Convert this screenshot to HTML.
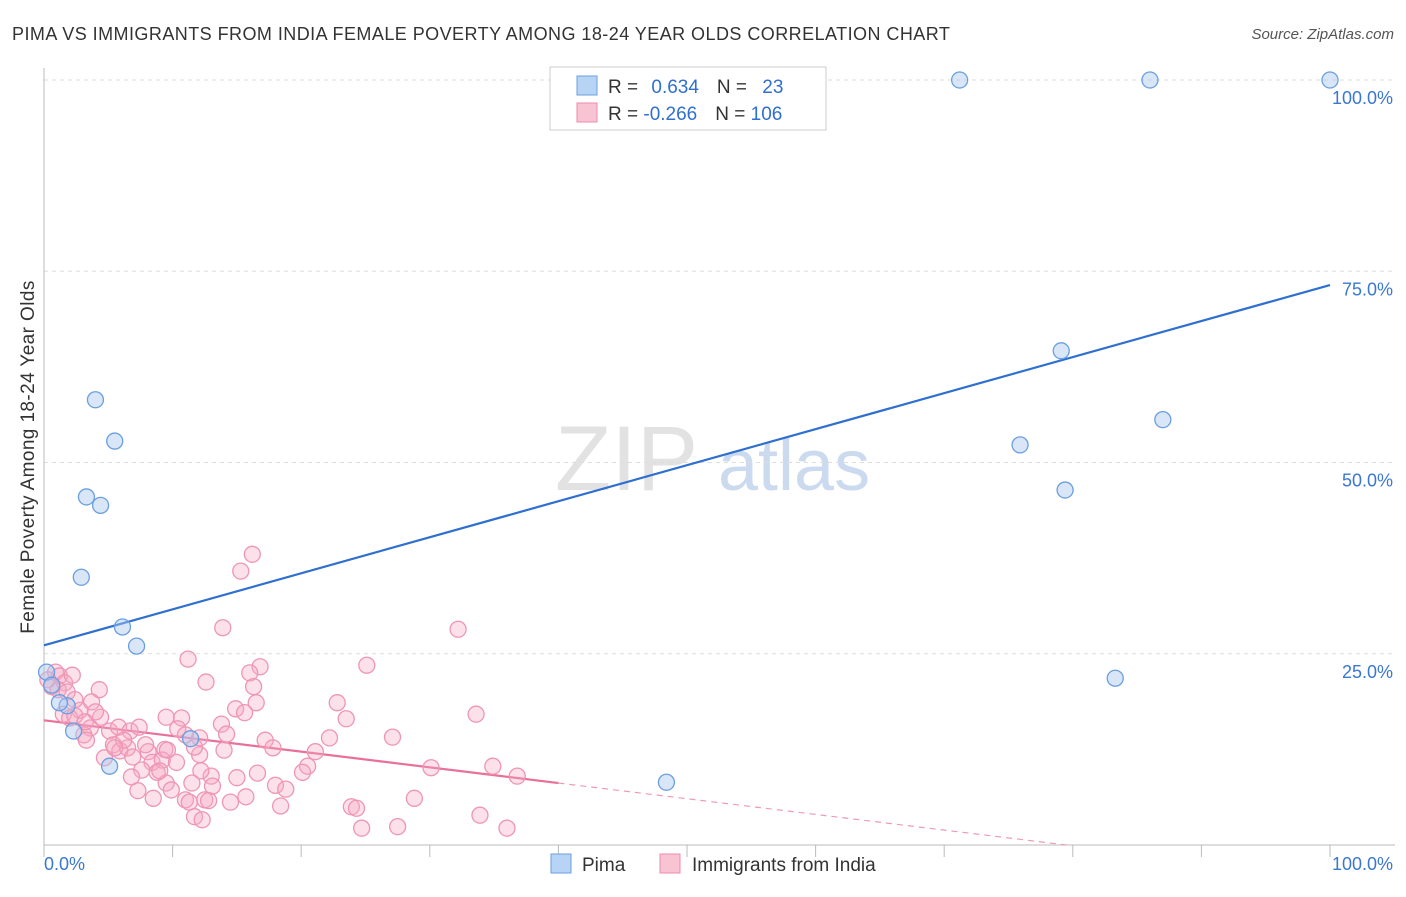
<!DOCTYPE html>
<html><head><meta charset="utf-8"><style>
body{margin:0;background:#fff;font-family:"Liberation Sans",sans-serif;}
svg text{font-family:"Liberation Sans",sans-serif;}
</style></head><body>
<svg id="chart" width="1406" height="892" xmlns="http://www.w3.org/2000/svg">
<text x="12" y="40" font-size="18" fill="#333" letter-spacing="0.45">PIMA VS IMMIGRANTS FROM INDIA FEMALE POVERTY AMONG 18-24 YEAR OLDS CORRELATION CHART</text>
<text x="1394" y="39" font-size="15" fill="#555" text-anchor="end" font-style="italic">Source: ZipAtlas.com</text>
<text x="34" y="457" font-size="19" fill="#333" text-anchor="middle" letter-spacing="0.4" transform="rotate(-90 34 457)">Female Poverty Among 18-24 Year Olds</text>
<g><text x="555" y="490" font-size="92" fill="#e2e2e2" font-family="Liberation Serif">ZIP</text><text x="718" y="490" font-size="72" fill="#cbdaef">atlas</text></g>
<g id="grid"></g><g id="axes"></g><g id="trend"></g><g id="points"></g>
<g>
<rect x="550" y="67" width="276" height="63" fill="#fff" stroke="#ccc"/>
<rect x="577" y="76" width="20" height="19" fill="#b8d4f5" stroke="#6a9fe0"/>
<rect x="577" y="103" width="20" height="19" fill="#f8c4d4" stroke="#ee8aab"/>
<text x="608" y="93" font-size="19" fill="#333">R = <tspan fill="#2f6fd0" dx="8">0.634</tspan><tspan dx="18" fill="#333">N = </tspan><tspan fill="#2f6fd0" dx="10">23</tspan></text>
<text x="608" y="120" font-size="19" fill="#333">R = <tspan fill="#2f6fd0">-0.266</tspan><tspan dx="18" fill="#333">N = </tspan><tspan fill="#2f6fd0">106</tspan></text>
</g>
<g>
<rect x="551" y="854" width="20" height="19" fill="#b8d4f5" stroke="#6a9fe0"/>
<text x="582" y="871" font-size="19" fill="#333">Pima</text>
<rect x="660" y="854" width="20" height="19" fill="#f8c4d4" stroke="#ee8aab"/>
<text x="692" y="871" font-size="19" fill="#333">Immigrants from India</text>
</g>
</svg>
<script>
const yTicks=[25,50,75,100];
const yTickLabels=["25.0%","50.0%","75.0%","100.0%"];
const pimaX=[71.2,86.0,100,79.1,75.9,87.0,79.4,83.3,48.4,4.0,5.5,3.3,4.4,2.9,6.1,7.2,11.4,5.1,2.3,1.8,0.2,0.6,1.2];
const pimaY=[100,100,100,64.6,52.3,55.6,46.4,21.8,8.2,58.2,52.8,45.5,44.4,35.0,28.5,26.0,13.9,10.3,14.9,18.2,22.6,20.9,18.6];
const indiaX=[16.2,15.3,13.9,32.2,11.2,16.8,25.1,16.0,12.6,16.3,22.8,16.5,33.6,14.9,15.6,23.5,10.7,9.5,13.8,10.4,14.2,17.2,22.2,27.1,17.8,14.0,12.1,21.1,20.5,20.1,30.1,34.9,36.8,16.6,15.0,13.0,11.5,18.0,18.8,9.5,9.9,7.3,8.5,11.0,11.3,12.5,12.8,14.5,18.4,28.8,23.9,24.3,11.7,12.3,24.7,27.5,33.9,36.0,
0.9,1.2,0.3,0.6,1.6,2.2,1.1,1.8,4.3,3.7,2.8,1.5,2.0,2.4,4.4,3.6,5.1,3.1,3.3,5.4,5.8,6.7,7.4,5.9,4.7,6.5,8.1,7.9,8.4,9.2,8.8,7.6,6.9,9.0,9.4,10.3,11.7,12.2,13.1,15.7,6.8,6.2,5.5,4.0,2.4,3.2,11.0,9.6,12.1];
const indiaY=[38.0,35.8,28.4,28.2,24.3,23.3,23.5,22.5,21.3,20.7,18.6,18.6,17.1,17.8,17.3,16.5,16.6,16.7,15.8,15.2,14.5,13.7,14.0,14.1,12.7,12.4,11.8,12.2,10.3,9.5,10.1,10.3,9.0,9.4,8.8,9.0,8.1,7.8,7.3,8.1,7.2,7.1,6.1,5.9,5.6,5.9,5.8,5.6,5.1,6.1,5.0,4.8,3.7,3.3,2.2,2.4,3.9,2.2,
22.6,22.1,21.6,20.7,21.2,22.2,20.3,20.0,20.3,18.7,17.6,17.1,16.6,16.9,16.7,15.3,14.9,14.4,13.7,13.1,15.4,14.9,15.4,12.3,11.4,12.7,12.2,13.1,10.8,11.1,9.5,9.8,11.5,9.7,12.5,10.8,12.8,9.7,7.7,6.3,8.9,13.7,12.7,17.4,19.0,16.1,14.4,12.4,14.0];
const pimaTrend=[26.1,73.2];
const indiaTrend=[16.3,-0.205];
const X0=44,X1=1330,Y0=845,Y100=80;
const sx=v=>X0+(X1-X0)*v/100, sy=v=>Y0-(Y0-Y100)*v/100;
const NS="http://www.w3.org/2000/svg";
function mk(p,t,a){const e=document.createElementNS(NS,t);for(const k in a)e.setAttribute(k,a[k]);document.getElementById(p).appendChild(e);return e;}
yTicks.forEach((t,i)=>{
 const l=mk('grid','line',{x1:X0,x2:1395,y1:sy(t),y2:sy(t),stroke:'#ddd','stroke-dasharray':'4,4'});
 
 
 const tx=mk('grid','text',{x:1393,y:sy(t)+24,'font-size':18,fill:'#3a78d0','text-anchor':'end'});
 tx.textContent=yTickLabels[i];
 
 
});
const ax=mk('axes','line',{x1:X0,x2:X0,y1:68,y2:Y0,stroke:'#bbb'});


const bx=mk('axes','line',{x1:X0,x2:1395,y1:Y0,y2:Y0,stroke:'#bbb'});


for(let t=0;t<=100;t+=10){const k=mk('axes','line',{x1:sx(t),x2:sx(t),y1:Y0,y2:Y0+12,stroke:'#bbb'});
 
 }
[[0,'0.0%','start',44],[100,'100.0%','end',1393]].forEach(d=>{const t=mk('axes','text',{x:d[3],y:870,'font-size':18,fill:'#3a78d0','text-anchor':d[2]});t.textContent=d[1];
 
 });
const bl=mk('trend','line',{x1:sx(0),y1:sy(pimaTrend[0]),x2:sx(100),y2:sy(pimaTrend[1]),stroke:'#2f6fd0','stroke-width':2.2});


const pf=x=>indiaTrend[0]+indiaTrend[1]*x;
const pl=mk('trend','line',{x1:sx(0),y1:sy(pf(0)),x2:sx(40),y2:sy(pf(40)),stroke:'#e8709a','stroke-width':2.2});


const pd=mk('trend','line',{x1:sx(40),y1:sy(pf(40)),x2:sx(79.5),y2:sy(pf(79.5)),stroke:'#ee9ab6','stroke-width':1.2,'stroke-dasharray':'6,5'});


indiaX.forEach((x,i)=>{const c=mk('points','circle',{cx:sx(x),cy:sy(indiaY[i]),r:8,fill:'rgba(246,170,196,0.35)',stroke:'#ef95b5','stroke-width':1.3});
 
 });
pimaX.forEach((x,i)=>{const c=mk('points','circle',{cx:sx(x),cy:sy(pimaY[i]),r:8,fill:'rgba(170,200,240,0.45)',stroke:'#6a9fe0','stroke-width':1.3});
 
 });
</script>
</body></html>
